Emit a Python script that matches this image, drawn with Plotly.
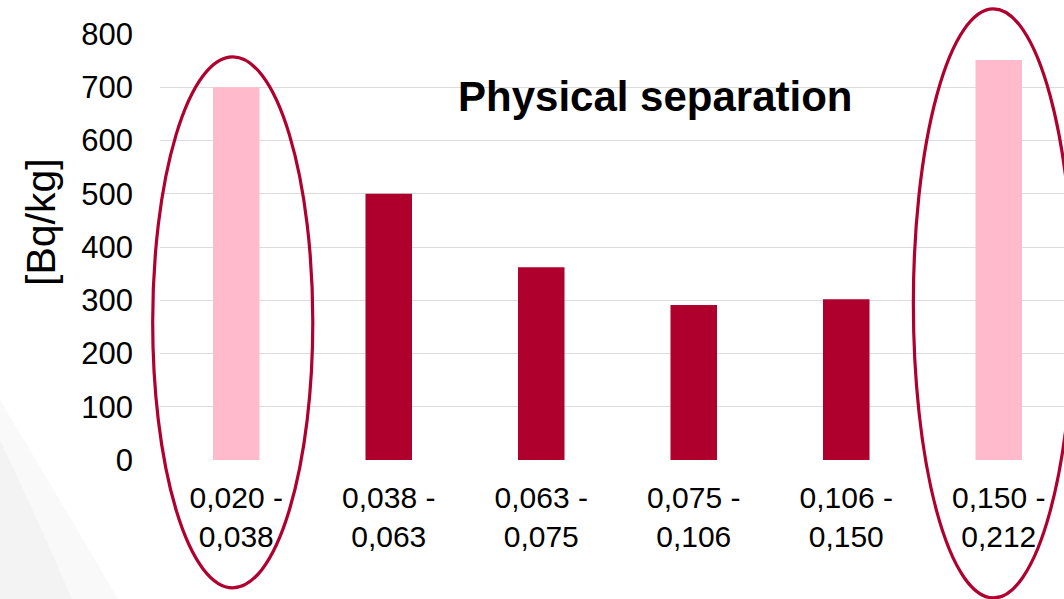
import plotly.graph_objects as go

# Particle size fractions [mm] and activity concentration [Bq/kg]
fractions = ["0,020 -<br>0,038", "0,038 -<br>0,063", "0,063 -<br>0,075",
             "0,075 -<br>0,106", "0,106 -<br>0,150", "0,150 -<br>0,212"]
activity = [700, 500, 362, 291, 302, 751]
highlighted = [True, False, False, False, False, True]

PINK = "#FFBBCB"
CRIMSON = "#AF002D"

W, H = 1064, 599
ML, MT, MB, MR = 160, 34, 139, 0
plot_w = W - ML - MR
plot_h = H - MT - MB
cat_px = 152.5                      # pixel width of one category slot
x_lo = -0.5
x_hi = x_lo + plot_w / cat_px
y_lo, y_hi = 0, 800


def xp(cat):
    """category units -> paper x"""
    return (cat - x_lo) / (x_hi - x_lo)


def yp(val):
    """value units -> paper y"""
    return (val - y_lo) / (y_hi - y_lo)


def px(x, y):
    """pixel position -> paper coordinates"""
    return (x - ML) / plot_w, (H - MB - y) / plot_h


colors = [PINK if h else CRIMSON for h in highlighted]

fig = go.Figure(go.Bar(
    x=list(range(len(fractions))),
    y=activity,
    width=0.305,
    marker=dict(color=colors, line=dict(width=0)),
    hoverinfo="skip",
))

shapes = []

# faint background swoosh in the lower left corner
def path(points):
    s = ""
    for cmd, pts in points:
        s += cmd + " " + " ".join(f"{a:.4f},{b:.4f}" for a, b in (px(*p) for p in pts)) + " "
    return s + "Z"

shapes.append(dict(type="path", xref="paper", yref="paper", layer="below",
                   path=path([("M", [(0, 400)]), ("Q", [(60, 500), (118, 599)]),
                              ("L", [(0, 599)])]),
                   fillcolor="#f9f9f9", line=dict(width=0)))
shapes.append(dict(type="path", xref="paper", yref="paper", layer="below",
                   path=path([("M", [(0, 440)]), ("Q", [(38, 520), (72, 599)]),
                              ("L", [(0, 599)])]),
                   fillcolor="#f3f3f3", line=dict(width=0)))

# ellipses around the finest and coarsest fraction
for i, (c0, c1, v0, v1) in [(0, (-0.548, 0.502, -240, 757)),
                            (5, (-0.56, 0.49, -259, 847))]:
    shapes.append(dict(type="circle", xref="paper", yref="paper", layer="above",
                       x0=xp(i + c0), x1=xp(i + c1), y0=yp(v0), y1=yp(v1),
                       line=dict(color="#B0002F", width=3.2)))

fig.update_layout(
    width=W, height=H,
    margin=dict(l=ML, r=MR, t=MT, b=MB, autoexpand=False),
    paper_bgcolor="white", plot_bgcolor="rgba(0,0,0,0)",
    showlegend=False,
    font=dict(family="Liberation Sans, Arial, sans-serif", color="black"),
    shapes=shapes,
    xaxis=dict(range=[x_lo, x_hi], tickmode="array",
               tickvals=list(range(len(fractions))), ticktext=fractions,
               showgrid=False, zeroline=False, showline=False, ticks="",
               tickfont=dict(size=30), ticklabelstandoff=17, fixedrange=True),
    yaxis=dict(range=[y_lo, y_hi], dtick=100, showgrid=True,
               gridcolor="#dcdcdc", gridwidth=1.2, zeroline=False,
               showline=False, ticks="", tickfont=dict(size=31),
               ticklabelstandoff=26, fixedrange=True),
    annotations=[
        dict(text="<b>Physical separation</b>", xref="paper", yref="paper",
             x=px(655, 0)[0], y=px(0, 96)[1], xanchor="center", yanchor="middle",
             showarrow=False, font=dict(size=42, color="black")),
        dict(text="[Bq/kg]", xref="paper", yref="paper", textangle=-90,
             x=px(41, 0)[0], y=px(0, 222)[1], xanchor="center", yanchor="middle",
             showarrow=False, font=dict(size=41, color="black")),
    ],
)

fig.write_html("out.html", config={"displayModeBar": False})
